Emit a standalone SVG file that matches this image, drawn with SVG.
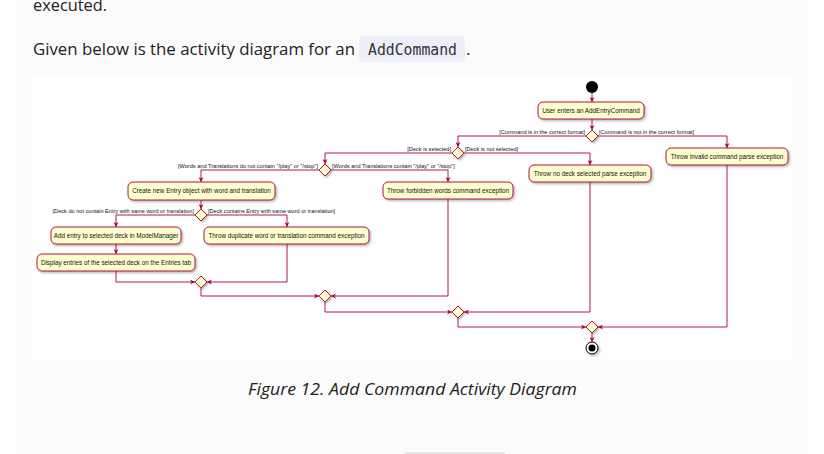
<svg xmlns="http://www.w3.org/2000/svg" width="824" height="454" viewBox="0 0 824 454">
<defs>
<style>
.page{font-family:"Open Sans","Noto Sans","Liberation Sans",sans-serif;fill:#222;font-size:17px}
.act rect{fill:#FEFECE;stroke:#A80036;stroke-width:0.9;filter:url(#sh)}
.act text{font-family:"Liberation Sans",Arial,sans-serif;font-size:6.3px;fill:#111;text-anchor:middle}
.dec polygon{fill:#FEFECE;stroke:#A80036;stroke-width:0.9;filter:url(#sh)}
.lbl{font-family:"Liberation Sans",Arial,sans-serif;font-size:5.6px;fill:#111}
.conn path{fill:none;stroke:#A80036;stroke-width:0.9;marker-end:url(#ar)}
</style>
<filter id="sh" x="-20%" y="-30%" width="150%" height="180%">
<feDropShadow dx="1.5" dy="1.5" stdDeviation="0.9" flood-color="#000" flood-opacity="0.3"/>
</filter>
<marker id="ar" viewBox="0 0 10 10" refX="10" refY="5" markerWidth="5" markerHeight="5" markerUnits="userSpaceOnUse" orient="auto">
<path d="M0,0 L10,5 L0,10 L3,5 z" fill="#A80036"/>
</marker>
</defs>
<rect x="0" y="0" width="824" height="454" fill="#ffffff"/>
<rect x="15" y="0" width="793" height="454" fill="#fbfbfb"/>
<rect x="32" y="77" width="760" height="282" fill="#ffffff"/>
<rect x="405" y="452" width="100" height="2" fill="#e8e8e8"/>

<text class="page" x="33" y="11" textLength="74" lengthAdjust="spacingAndGlyphs">executed.</text>
<text class="page" x="33" y="55" textLength="322" lengthAdjust="spacingAndGlyphs">Given below is the activity diagram for an</text>
<rect x="359" y="36" width="106" height="26" rx="3" fill="#eeeef8"/>
<text x="368" y="55" font-family="'DejaVu Sans Mono','Liberation Mono',monospace" font-size="15" fill="#333" textLength="89" lengthAdjust="spacingAndGlyphs">AddCommand</text>
<text class="page" x="466" y="55">.</text>
<text class="page" x="248" y="395" font-style="italic" textLength="329" lengthAdjust="spacingAndGlyphs">Figure 12. Add Command Activity Diagram</text>

<g id="start"><circle cx="592" cy="87" r="6" fill="#000"/></g>

<g id="a-user" class="act"><rect x="538" y="102" width="106" height="17" rx="5"/><text x="591" y="112.7">User enters an AddEntryCommand</text></g>
<g id="a-invalid" class="act"><rect x="666" y="148" width="122" height="17" rx="5"/><text x="727" y="158.7">Throw invalid command parse exception</text></g>
<g id="a-nodeck" class="act"><rect x="529" y="165" width="122" height="17" rx="5"/><text x="590" y="175.7">Throw no deck selected parse exception</text></g>
<g id="a-create" class="act"><rect x="128" y="182" width="147" height="18" rx="5"/><text x="201.5" y="193.2">Create new Entry object with word and translation</text></g>
<g id="a-forbidden" class="act"><rect x="383" y="182" width="130" height="17" rx="5"/><text x="448" y="192.7">Throw forbidden words command exception</text></g>
<g id="a-add" class="act"><rect x="51" y="227" width="130" height="17" rx="5"/><text x="116" y="237.7">Add entry to selected deck in ModelManager</text></g>
<g id="a-dup" class="act"><rect x="204" y="227" width="165" height="17" rx="5"/><text x="286.5" y="237.7">Throw duplicate word or translation command exception</text></g>
<g id="a-display" class="act"><rect x="37" y="254" width="158" height="17" rx="5"/><text x="116" y="264.7">Display entries of the selected deck on the Entries tab</text></g>

<g id="d1" class="dec"><polygon points="592,130 598,136 592,142 586,136"/></g>
<g id="d2" class="dec"><polygon points="458,147 464,153 458,159 452,153"/></g>
<g id="d3" class="dec"><polygon points="325,164 331,170 325,176 319,170"/></g>
<g id="d4" class="dec"><polygon points="201,209 207,215 201,221 195,215"/></g>
<g id="m1" class="dec"><polygon points="201,276 207,282 201,288 195,282"/></g>
<g id="m2" class="dec"><polygon points="325,290 331,296 325,302 319,296"/></g>
<g id="m3" class="dec"><polygon points="458,306 464,312 458,318 452,312"/></g>
<g id="m4" class="dec"><polygon points="592,321 598,327 592,333 586,327"/></g>

<g id="end"><circle cx="592" cy="348" r="6" fill="#fff" stroke="#000" stroke-width="1" filter="url(#sh)"/><circle cx="592" cy="348" r="3.5" fill="#000"/></g>

<g id="connectors" class="conn">
<path d="M592,93 V102"/>
<path d="M592,119 V130"/>
<path d="M586,136 H458 V147"/>
<path d="M598,136 H727 V148"/>
<path d="M452,153 H325 V164"/>
<path d="M464,153 H590 V165"/>
<path d="M319,170 H201 V182"/>
<path d="M331,170 H448 V182"/>
<path d="M201,200 V209"/>
<path d="M195,215 H116 V227"/>
<path d="M207,215 H287 V227"/>
<path d="M116,244 V254"/>
<path d="M116,271 V282 H195"/>
<path d="M287,244 V282 H207"/>
<path d="M201,288 V296 H319"/>
<path d="M448,199 V296 H331"/>
<path d="M325,302 V312 H452"/>
<path d="M590,182 V312 H464"/>
<path d="M458,318 V327 H586"/>
<path d="M727,165 V327 H598"/>
<path d="M592,333 V342"/>
</g>

<g id="labels">
<text class="lbl" x="585" y="134" text-anchor="end">[Command is in the correct format]</text>
<text class="lbl" x="599" y="134">[Command is not in the correct format]</text>
<text class="lbl" x="451" y="151" text-anchor="end">[Deck is selected]</text>
<text class="lbl" x="465" y="151">[Deck is not selected]</text>
<text class="lbl" x="318" y="168" text-anchor="end">[Words and Translations do not contain "/play" or "/stop"]</text>
<text class="lbl" x="332" y="168">[Words and Translations contain "/play" or "/stop"]</text>
<text class="lbl" x="194" y="213" text-anchor="end">[Deck do not contain Entry with same word or translation]</text>
<text class="lbl" x="208" y="213">[Deck contains Entry with same word or translation]</text>
</g>
</svg>
